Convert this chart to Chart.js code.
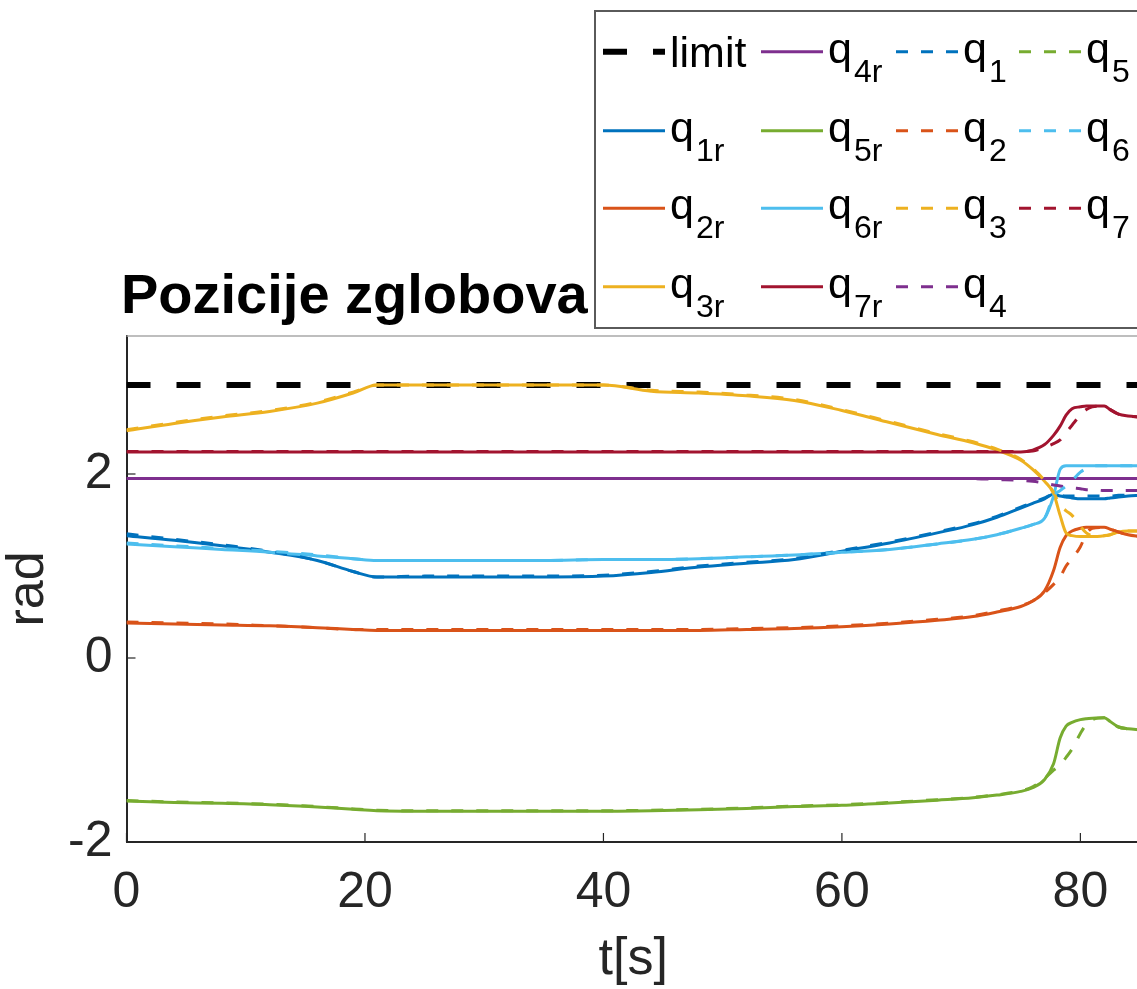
<!DOCTYPE html>
<html>
<head>
<meta charset="utf-8">
<title>Pozicije zglobova</title>
<script src="https://cdn.jsdelivr.net/npm/chart.js@4/dist/chart.umd.min.js"></script>
<style>
    html, body { margin: 0; padding: 0; background: #fff; overflow: hidden; }
    #wrap { position: absolute; left: 0; top: 0; width: 1145px; height: 989px; }
</style>
</head>
<body>
<div id="wrap"><canvas id="pozicije" width="1145" height="989"></canvas></div>
<script>
//vrijeme u sekundama
const vrijeme = [0, 4, 8, 12, 16, 19, 21, 25, 30, 35, 40, 44, 48, 52, 56, 60, 64, 68, 71, 73, 75, 76, 77, 77.75, 78.3, 78.8, 79.3, 80, 80.5, 81, 82, 82.5, 83.2, 84, 85];

//referentne pozicije (pune linije)
const q1r = [1.33, 1.28, 1.22, 1.15, 1.06, 0.94, 0.88, 0.88, 0.88, 0.88, 0.89, 0.93, 0.99, 1.03, 1.07, 1.16, 1.25, 1.36, 1.45, 1.53, 1.63, 1.68, 1.73, 1.78, 1.76, 1.75, 1.74, 1.73, 1.73, 1.73, 1.73, 1.74, 1.75, 1.76, 1.77];
const q2r = [0.38, 0.37, 0.36, 0.35, 0.33, 0.31, 0.30, 0.30, 0.30, 0.30, 0.30, 0.30, 0.30, 0.31, 0.32, 0.34, 0.37, 0.41, 0.45, 0.50, 0.56, 0.62, 0.73, 0.95, 1.20, 1.33, 1.38, 1.41, 1.42, 1.42, 1.42, 1.40, 1.37, 1.34, 1.32];
const q3r = [2.47, 2.55, 2.62, 2.68, 2.77, 2.88, 2.967, 2.967, 2.967, 2.967, 2.967, 2.90, 2.88, 2.85, 2.80, 2.69, 2.56, 2.43, 2.34, 2.26, 2.15, 2.05, 1.92, 1.79, 1.55, 1.36, 1.33, 1.32, 1.32, 1.32, 1.33, 1.34, 1.37, 1.38, 1.38];
const q4r = [1.95, 1.95, 1.95, 1.95, 1.95, 1.95, 1.95, 1.95, 1.95, 1.95, 1.95, 1.95, 1.95, 1.95, 1.95, 1.95, 1.95, 1.95, 1.95, 1.95, 1.95, 1.95, 1.95, 1.95, 1.95, 1.95, 1.95, 1.95, 1.95, 1.95, 1.95, 1.95, 1.95, 1.95, 1.95];
const q5r = [-1.555, -1.57, -1.58, -1.595, -1.62, -1.645, -1.66, -1.665, -1.665, -1.665, -1.665, -1.66, -1.65, -1.635, -1.615, -1.60, -1.575, -1.545, -1.52, -1.49, -1.45, -1.41, -1.32, -1.15, -0.87, -0.74, -0.70, -0.67, -0.66, -0.655, -0.65, -0.69, -0.75, -0.77, -0.78];
const q6r = [1.24, 1.21, 1.18, 1.15, 1.11, 1.08, 1.06, 1.06, 1.06, 1.06, 1.07, 1.07, 1.08, 1.10, 1.12, 1.15, 1.18, 1.24, 1.29, 1.34, 1.41, 1.45, 1.52, 1.76, 2.05, 2.09, 2.09, 2.09, 2.09, 2.09, 2.09, 2.09, 2.09, 2.09, 2.09];
const q7r = [2.24, 2.24, 2.24, 2.24, 2.24, 2.24, 2.24, 2.24, 2.24, 2.24, 2.24, 2.24, 2.24, 2.24, 2.24, 2.24, 2.24, 2.24, 2.24, 2.24, 2.24, 2.26, 2.32, 2.42, 2.52, 2.64, 2.71, 2.73, 2.74, 2.74, 2.74, 2.70, 2.65, 2.63, 2.62];

//stvarne pozicije (isprekidane linije)
const q1 = [1.35, 1.29, 1.23, 1.16, 1.06, 0.94, 0.88, 0.89, 0.89, 0.89, 0.90, 0.94, 1.00, 1.04, 1.08, 1.17, 1.26, 1.37, 1.46, 1.54, 1.64, 1.69, 1.74, 1.78, 1.77, 1.76, 1.76, 1.76, 1.76, 1.76, 1.76, 1.76, 1.77, 1.77, 1.78];
const q2 = [0.39, 0.38, 0.37, 0.35, 0.33, 0.31, 0.31, 0.31, 0.31, 0.31, 0.31, 0.31, 0.31, 0.32, 0.33, 0.35, 0.38, 0.42, 0.46, 0.51, 0.57, 0.62, 0.71, 0.80, 0.88, 1.00, 1.08, 1.21, 1.35, 1.41, 1.42, 1.40, 1.37, 1.34, 1.32];
const q3 = [2.48, 2.56, 2.63, 2.69, 2.78, 2.89, 2.967, 2.967, 2.967, 2.967, 2.967, 2.91, 2.89, 2.86, 2.81, 2.70, 2.57, 2.44, 2.35, 2.27, 2.16, 2.06, 1.93, 1.80, 1.66, 1.60, 1.55, 1.43, 1.36, 1.33, 1.33, 1.34, 1.37, 1.38, 1.38];
const q4 = [1.95, 1.95, 1.95, 1.95, 1.95, 1.95, 1.95, 1.95, 1.95, 1.95, 1.95, 1.95, 1.95, 1.95, 1.95, 1.95, 1.95, 1.95, 1.95, 1.94, 1.93, 1.92, 1.90, 1.88, 1.87, 1.86, 1.85, 1.84, 1.83, 1.83, 1.82, 1.82, 1.82, 1.82, 1.82];
const q5 = [-1.55, -1.565, -1.575, -1.59, -1.615, -1.64, -1.655, -1.66, -1.66, -1.66, -1.66, -1.655, -1.645, -1.63, -1.61, -1.595, -1.57, -1.54, -1.515, -1.485, -1.445, -1.40, -1.31, -1.22, -1.16, -1.08, -0.99, -0.82, -0.72, -0.67, -0.65, -0.69, -0.75, -0.77, -0.78];
const q6 = [1.25, 1.22, 1.19, 1.16, 1.12, 1.08, 1.06, 1.06, 1.06, 1.06, 1.07, 1.07, 1.08, 1.10, 1.12, 1.15, 1.18, 1.24, 1.29, 1.34, 1.41, 1.45, 1.52, 1.76, 1.82, 1.87, 1.93, 2.02, 2.06, 2.09, 2.09, 2.09, 2.09, 2.09, 2.09];
const q7 = [2.245, 2.245, 2.245, 2.245, 2.245, 2.245, 2.245, 2.245, 2.245, 2.245, 2.245, 2.245, 2.245, 2.245, 2.245, 2.245, 2.245, 2.245, 2.245, 2.245, 2.245, 2.25, 2.29, 2.33, 2.37, 2.45, 2.53, 2.64, 2.70, 2.73, 2.74, 2.70, 2.65, 2.63, 2.62];

//granica zgloba
const limitT = [0, 85];
const limitQ = [2.967, 2.967];

//oznake na osima
const xTicks = [0, 20, 40, 60, 80];
const yTicks = [-2, 0, 2];

//matlab boje
const PLAVA = '#0072BD', NARANCASTA = '#D95319', ZUTA = '#EDB120', LJUBICASTA = '#7E2F8E',
      ZELENA = '#77AC30', SVIJETLOPLAVA = '#4DBEEE', TAMNOCRVENA = '#A2142F';

const FONT = '"Liberation Sans", Arial, Helvetica, sans-serif';

const serije = [
    { naziv: 'limit', t: limitT, q: limitQ, boja: '#000000', crta: [24, 26], debljina: 6 },
    { naziv: 'q_{1r}', t: vrijeme, q: q1r, boja: PLAVA },
    { naziv: 'q_{2r}', t: vrijeme, q: q2r, boja: NARANCASTA },
    { naziv: 'q_{3r}', t: vrijeme, q: q3r, boja: ZUTA },
    { naziv: 'q_{4r}', t: vrijeme, q: q4r, boja: LJUBICASTA },
    { naziv: 'q_{5r}', t: vrijeme, q: q5r, boja: ZELENA },
    { naziv: 'q_{6r}', t: vrijeme, q: q6r, boja: SVIJETLOPLAVA },
    { naziv: 'q_{7r}', t: vrijeme, q: q7r, boja: TAMNOCRVENA },
    { naziv: 'q_{1}', t: vrijeme, q: q1, boja: PLAVA, crta: [12, 13] },
    { naziv: 'q_{2}', t: vrijeme, q: q2, boja: NARANCASTA, crta: [12, 13] },
    { naziv: 'q_{3}', t: vrijeme, q: q3, boja: ZUTA, crta: [12, 13] },
    { naziv: 'q_{4}', t: vrijeme, q: q4, boja: LJUBICASTA, crta: [12, 13] },
    { naziv: 'q_{5}', t: vrijeme, q: q5, boja: ZELENA, crta: [12, 13] },
    { naziv: 'q_{6}', t: vrijeme, q: q6, boja: SVIJETLOPLAVA, crta: [12, 13] },
    { naziv: 'q_{7}', t: vrijeme, q: q7, boja: TAMNOCRVENA, crta: [12, 13] }
];

//pozicije legende (kolone i redovi)
const legendaKolone = [603, 761, 896, 1019];
const legendaRedovi = [51.7, 130.7, 208.3, 286.7];

//naslov, legenda, tickovi prema unutra i gornji rub
const matlabOkvir = {
    id: 'matlabOkvir',
    afterDraw(chart) {
        const ctx = chart.ctx;
        const a = chart.chartArea;
        const sx = chart.scales.x, sy = chart.scales.y;
        ctx.save();

        //gornji rub okvira
        ctx.strokeStyle = '#a8a8a8';
        ctx.lineWidth = 1.5;
        ctx.beginPath();
        ctx.moveTo(a.left, a.top);
        ctx.lineTo(a.right, a.top);
        ctx.stroke();

        //tickovi
        ctx.strokeStyle = '#262626';
        ctx.lineWidth = 1.2;
        xTicks.forEach(v => {
            const px = sx.getPixelForValue(v);
            ctx.beginPath();
            ctx.moveTo(px, a.bottom);
            ctx.lineTo(px, a.bottom - 9);
            ctx.stroke();
        });
        yTicks.forEach(v => {
            const py = sy.getPixelForValue(v);
            ctx.beginPath();
            ctx.moveTo(a.left, py);
            ctx.lineTo(a.left + 9, py);
            ctx.stroke();
        });

        //naslov
        ctx.fillStyle = '#000';
        ctx.font = 'bold 56px ' + FONT;
        ctx.textAlign = 'left';
        ctx.textBaseline = 'alphabetic';
        ctx.fillText('Pozicije zglobova', 121, 313);

        //legenda
        ctx.fillStyle = '#fff';
        ctx.fillRect(595, 11, 600, 317);
        ctx.strokeStyle = '#5a5a5a';
        ctx.lineWidth = 2;
        ctx.strokeRect(595, 11, 600, 317);

        chart.data.datasets.forEach((ds, i) => {
            const lx = legendaKolone[Math.floor(i / 4)];
            const ly = legendaRedovi[i % 4];
            ctx.strokeStyle = ds.borderColor;
            ctx.lineWidth = ds.borderWidth;
            ctx.setLineDash(ds.borderDash || []);
            ctx.beginPath();
            ctx.moveTo(lx, ly);
            ctx.lineTo(lx + 62, ly);
            ctx.stroke();
            ctx.setLineDash([]);

            const m = /^(.*?)_\{(.*)\}$/.exec(ds.label);
            const tx = lx + 67;
            ctx.fillStyle = '#000';
            ctx.font = '43px ' + FONT;
            if (m) {
                ctx.fillText(m[1], tx, ly + 11);
                const w = ctx.measureText(m[1]).width;
                ctx.font = '32px ' + FONT;
                ctx.fillText(m[2], tx + w + 2, ly + 30);
            } else {
                ctx.fillText(ds.label, tx, ly + 15);
            }
        });

        ctx.restore();
    }
};

new Chart(document.getElementById('pozicije'), {
    type: 'line',
    data: {
        datasets: serije.map((s, i) => ({
            label: s.naziv,
            data: s.t.map((t, j) => ({ x: t, y: s.q[j] })),
            borderColor: s.boja,
            backgroundColor: s.boja,
            borderWidth: s.debljina || 3,
            borderDash: s.crta,
            pointRadius: 0,
            fill: false,
            cubicInterpolationMode: 'monotone',
            order: i === 0 ? 100 : 50 - i
        }))
    },
    options: {
        responsive: false,
        animation: false,
        layout: { padding: { top: 336, right: 5, left: 0, bottom: 0 } },
        plugins: {
            legend: { display: false },
            title: { display: false },
            tooltip: { enabled: false }
        },
        scales: {
            x: {
                type: 'linear',
                min: 0,
                max: 85,
                afterBuildTicks: scale => { scale.ticks = xTicks.map(v => ({ value: v })); },
                afterFit: scale => { scale.height = 147; },
                grid: { display: false, drawTicks: false },
                border: { display: true, color: '#262626', width: 2 },
                ticks: {
                    color: '#262626',
                    padding: 21,
                    maxRotation: 0,
                    font: { family: FONT, size: 50 }
                },
                title: {
                    display: true,
                    text: 't[s]',
                    color: '#262626',
                    font: { family: FONT, size: 52, lineHeight: 1 },
                    padding: { top: 0, bottom: 3 }
                }
            },
            y: {
                type: 'linear',
                min: -2,
                max: 3.5,
                afterBuildTicks: scale => { scale.ticks = yTicks.map(v => ({ value: v })); },
                afterFit: scale => { scale.width = 126.5; },
                grid: { display: false, drawTicks: false },
                border: { display: true, color: '#262626', width: 2 },
                ticks: {
                    color: '#262626',
                    padding: 14,
                    font: { family: FONT, size: 50 }
                },
                title: {
                    display: true,
                    text: 'rad',
                    color: '#262626',
                    font: { family: FONT, size: 52, lineHeight: 1 },
                    padding: { top: 2.5, bottom: 0 }
                }
            }
        }
    },
    plugins: [matlabOkvir]
});
</script>
</body>
</html>
